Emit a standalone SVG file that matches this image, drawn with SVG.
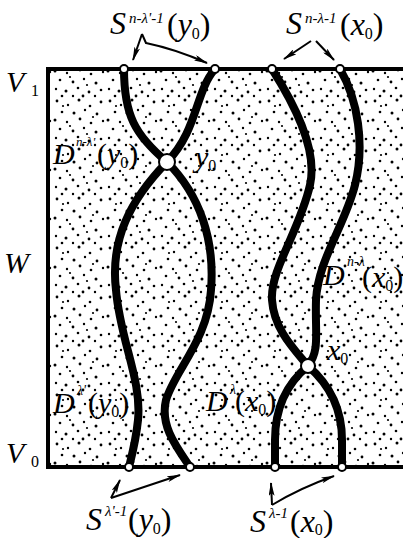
<svg xmlns="http://www.w3.org/2000/svg" width="403" height="538" viewBox="0 0 403 538">
<style>
.m{font-family:"Liberation Serif","DejaVu Serif",serif;font-style:italic;fill:#000}
.n{font-family:"Liberation Serif","DejaVu Serif",serif;font-style:normal}
.curve{fill:none;stroke:#000;stroke-width:8;stroke-linecap:round}
.arr{fill:none;stroke:#000;stroke-width:2;marker-end:url(#ah)}
.pt{fill:#fff;stroke:#000;stroke-width:2}
</style>
<defs>
<marker id="ah" viewBox="0 0 14 6" refX="13" refY="3" markerWidth="14" markerHeight="6" markerUnits="userSpaceOnUse" orient="auto">
<path d="M0,0 L14,3 L0,6 L3,3 Z" fill="#000"/>
</marker>
<pattern id="dots" width="53" height="49" patternUnits="userSpaceOnUse">
<g fill="#000">
<circle cx="4" cy="3" r="1.4"/><circle cx="15" cy="7" r="1.2"/><circle cx="26" cy="2" r="1.5"/><circle cx="37" cy="8" r="1.3"/><circle cx="48" cy="4" r="1.4"/>
<circle cx="9" cy="14" r="1.3"/><circle cx="21" cy="15" r="1.5"/><circle cx="32" cy="12" r="1.2"/><circle cx="44" cy="16" r="1.4"/>
<circle cx="2" cy="22" r="1.5"/><circle cx="14" cy="24" r="1.2"/><circle cx="27" cy="21" r="1.4"/><circle cx="38" cy="25" r="1.3"/><circle cx="50" cy="23" r="1.2"/>
<circle cx="7" cy="31" r="1.3"/><circle cx="20" cy="33" r="1.4"/><circle cx="31" cy="30" r="1.2"/><circle cx="43" cy="34" r="1.5"/>
<circle cx="3" cy="40" r="1.2"/><circle cx="13" cy="42" r="1.5"/><circle cx="25" cy="39" r="1.3"/><circle cx="36" cy="43" r="1.4"/><circle cx="48" cy="41" r="1.3"/>
<circle cx="9" cy="47" r="1.3"/><circle cx="20" cy="47" r="1.2"/><circle cx="30" cy="47" r="1.4"/><circle cx="42" cy="47" r="1.2"/>
<circle cx="17" cy="28" r="1.1"/><circle cx="40" cy="19" r="1.1"/><circle cx="10" cy="8" r="1.1"/><circle cx="34" cy="36" r="1.1"/>
</g>
</pattern>
</defs>
<g id="region">
<rect x="48" y="69" width="360" height="398" fill="#fff"/>
<rect x="48" y="69" width="360" height="398" fill="url(#dots)"/>
<path d="M406,69 H48 V467 H406" fill="none" stroke="#000" stroke-width="4"/>
</g>
<g id="connectors">
<path class="curve" d="M124,69 C124,115 135,135 167,162"/>
<path class="curve" d="M215,69 C195,92 198,130 167,162"/>
<path class="curve" d="M167,162 C130,200 110,240 116,290 C120,340 142,380 138,420 C136,440 132,455 129,467"/>
<path class="curve" d="M167,162 C200,195 215,240 211,290 C208,340 175,370 166,400 C160,425 175,445 190,467"/>
<path class="curve" d="M272,69 C295,105 318,150 310,185 C300,230 270,270 272,300 C274,330 295,350 308,366"/>
<path class="curve" d="M340,69 C358,100 365,145 355,185 C345,225 318,260 316,300 C315,335 320,350 308,366"/>
<path class="curve" d="M308,366 C285,385 275,410 275,440 L275,467"/>
<path class="curve" d="M308,366 C330,385 342,410 342,440 L342,467"/>
<path class="arr" d="M142,34 L133,60"/>
<path class="arr" d="M142,34 L146,43 Q175,49 207,63"/>
<path class="arr" d="M311,41 L284,59"/>
<path class="arr" d="M316,41 L334,60"/>
<path class="arr" d="M111,498 L120,480"/>
<path class="arr" d="M111,498 L180,475"/>
<path class="arr" d="M272,505 L271,483"/>
<path class="arr" d="M272,505 Q300,488 334,476"/>
</g>
<g id="y0">
<circle cx="167" cy="162" r="8" class="pt" stroke-width="3"/>
<text class="m" x="195" y="167" font-size="30">y<tspan class="n" font-size="16" dy="4">0</tspan></text>
</g>
<g id="x0">
<circle cx="308" cy="366" r="7" class="pt" stroke-width="3"/>
<text class="m" x="327" y="360" font-size="30">x<tspan class="n" font-size="16" dy="4">0</tspan></text>
</g>
<g id="boundary-points">
<circle cx="124" cy="69" r="4" class="pt"/>
<circle cx="215" cy="69" r="4" class="pt"/>
<circle cx="272" cy="69" r="4" class="pt"/>
<circle cx="340" cy="69" r="4" class="pt"/>
<circle cx="129" cy="467" r="4" class="pt"/>
<circle cx="190" cy="467" r="4" class="pt"/>
<circle cx="275" cy="467" r="4" class="pt"/>
<circle cx="342" cy="467" r="4" class="pt"/>
</g>
<g id="labels">
<text class="m" x="6" y="92" font-size="30">V<tspan class="n" font-size="16" x="31" y="96">1</tspan></text>
<text class="m" x="4" y="273" font-size="30">W</text>
<text class="m" x="6" y="463" font-size="30">V<tspan class="n" font-size="16" x="31" y="467">0</tspan></text>
<text class="m" x="110" y="34" font-size="32">S<tspan font-size="15" x="129" y="23">n-λ'-1</tspan><tspan class="n" x="167" y="35">(</tspan>y<tspan class="n" font-size="16" dy="4">0</tspan><tspan class="n" dy="-4">)</tspan></text>
<text class="m" x="286" y="34" font-size="32">S<tspan font-size="15" x="305" y="23">n-λ-1</tspan><tspan class="n" x="340" y="35">(</tspan>x<tspan class="n" font-size="16" dy="4">0</tspan><tspan class="n" dy="-4">)</tspan></text>
<text class="m" x="53" y="164" font-size="30">D<tspan font-size="13" x="76" y="146">n-λ'</tspan><tspan class="n" x="97" y="164">(</tspan>y<tspan class="n" font-size="16" dy="4">0</tspan><tspan class="n" dy="-4">)</tspan></text>
<text class="m" x="323" y="285" font-size="30">D<tspan font-size="14" x="347" y="266">n-λ</tspan><tspan class="n" x="362" y="287">(</tspan>x<tspan class="n" font-size="16" dy="4">0</tspan><tspan class="n" dy="-4">)</tspan></text>
<text class="m" x="53" y="413" font-size="30">D<tspan font-size="14" x="77" y="395">λ'</tspan><tspan class="n" x="88" y="413">(</tspan>y<tspan class="n" font-size="16" dy="4">0</tspan><tspan class="n" dy="-4">)</tspan></text>
<text class="m" x="206" y="411" font-size="30">D<tspan font-size="14" x="230" y="394">λ</tspan><tspan class="n" x="235" y="411">(</tspan>x<tspan class="n" font-size="16" dy="4">0</tspan><tspan class="n" dy="-4">)</tspan></text>
<text class="m" x="86" y="530" font-size="32">S<tspan font-size="15" x="105" y="516">λ'-1</tspan><tspan class="n" x="128" y="530">(</tspan>y<tspan class="n" font-size="16" dy="4">0</tspan><tspan class="n" dy="-4">)</tspan></text>
<text class="m" x="250" y="532" font-size="32">S<tspan font-size="15" x="269" y="518">λ-1</tspan><tspan class="n" x="290" y="532">(</tspan>x<tspan class="n" font-size="16" dy="3">0</tspan><tspan class="n" dy="-3">)</tspan></text>
</g>
</svg>
